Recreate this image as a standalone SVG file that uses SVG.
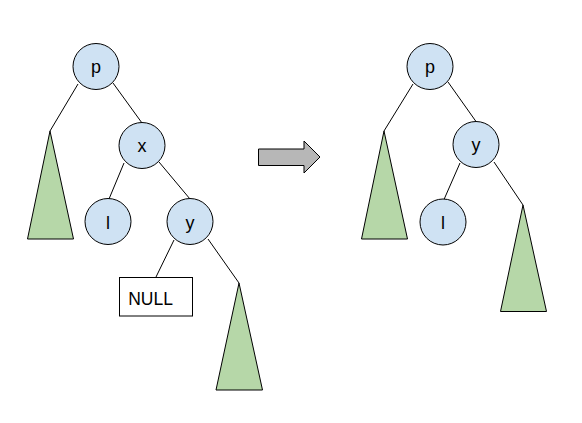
<svg xmlns="http://www.w3.org/2000/svg" width="582" height="423" viewBox="0 0 582 423">
  <style>
    .node circle { fill: #cfe2f3; stroke: #000; stroke-width: 1; }
    .sub polygon { fill: #b6d7a8; stroke: #000; stroke-width: 1; }
    .null rect { fill: #fff; stroke: #000; stroke-width: 1; }
    .edges line { stroke: #000; stroke-width: 1; }
    text { font-family: "Liberation Sans", Arial, sans-serif; font-size: 18px; fill: #000; text-anchor: middle; }
  </style>
  <rect width="582" height="423" fill="#fff"/>

  <!-- before: p with subtree, x with children l and y -->
  <g class="edges" id="edges-before">
    <line x1="78" y1="84" x2="50" y2="131"/>
    <line x1="113" y1="83" x2="142" y2="123"/>
    <line x1="124" y1="163" x2="109" y2="199"/>
    <line x1="159" y1="162" x2="190" y2="199"/>
    <line x1="174" y1="240" x2="156" y2="277"/>
    <line x1="208" y1="239" x2="239" y2="283"/>
  </g>
  <g class="node" id="p1"><circle cx="96" cy="66.5" r="23"/><text x="96" y="72.5">p</text></g>
  <g class="sub" id="t1"><polygon points="50,131 27.5,239 73.5,239"/></g>
  <g class="node" id="x1"><circle cx="142" cy="145.5" r="23"/><text x="142" y="152">x</text></g>
  <g class="node" id="l1"><circle cx="108" cy="221.5" r="23"/><text x="108" y="228.5">l</text></g>
  <g class="node" id="y1"><circle cx="190" cy="221.5" r="23"/><text x="190" y="228.5">y</text></g>
  <g class="null" id="null1"><rect x="119.5" y="277.5" width="73" height="38.5"/><text x="150.5" y="305" style="font-size:17.5px">NULL</text></g>
  <g class="sub" id="t2"><polygon points="239,283 216,390 262.5,390"/></g>

  <!-- transformation arrow -->
  <g id="arrow">
    <polygon points="258.5,149 304,149 304,141 320,157 304,173 304,165.5 258.5,165.5" fill="#b7b7b7" stroke="#000" stroke-width="1"/>
  </g>

  <!-- after: y takes x's place -->
  <g class="edges" id="edges-after">
    <line x1="413" y1="84" x2="384" y2="131"/>
    <line x1="448" y1="82" x2="476" y2="121.5"/>
    <line x1="460" y1="163" x2="444" y2="199.5"/>
    <line x1="494" y1="162" x2="523" y2="205"/>
  </g>
  <g class="node" id="p2"><circle cx="430" cy="66.5" r="23"/><text x="430" y="72.5">p</text></g>
  <g class="sub" id="t3"><polygon points="384,131 361.5,239 407.5,239"/></g>
  <g class="node" id="y2"><circle cx="476" cy="144.5" r="23"/><text x="476" y="151">y</text></g>
  <g class="node" id="l2"><circle cx="443" cy="222" r="23"/><text x="443" y="229">l</text></g>
  <g class="sub" id="t4"><polygon points="523,205 500.5,311.5 546.5,311.5"/></g>
</svg>
